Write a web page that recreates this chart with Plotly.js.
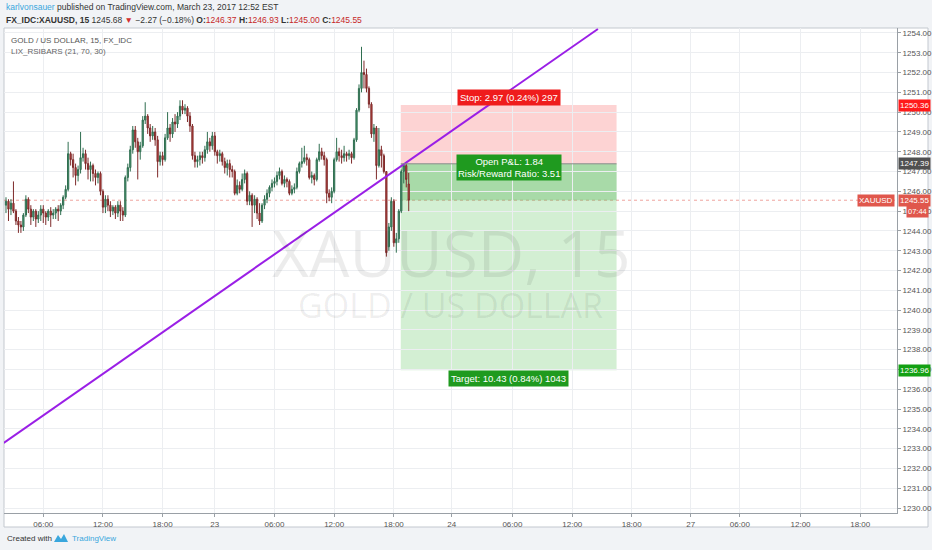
<!DOCTYPE html>
<html><head><meta charset="utf-8">
<script src="https://cdn.plot.ly/plotly-3.0.1.min.js"></script>
<style>html,body{margin:0;padding:0;background:#f1f3f6;}#chart{width:932px;height:550px;}</style>
</head><body><div id="chart"></div>
<script>
// 15-minute bars, index 0 = Mar 22 06:00
const firstBar = -15;
const opens = [1245.3,1245.5,1245.1,1245.4,1245.0,1244.5,1244.3,1244.2,1244.8,1245.6,1245.1,1244.7,1245.0,1244.6,1244.8,
1245.1,1244.9,1244.7,1245.0,1244.8,1244.9,1245.1,1245.0,1245.3,1245.7,
1246.1,1247.9,1247.6,1247.2,1246.8,1247.1,1247.7,1247.9,1247.4,1247.1,
1247.3,1246.9,1246.7,1246.9,1246.0,1245.2,1245.6,1245.3,1245.0,1245.2,
1244.9,1245.3,1245.0,1244.8,1246.7,1247.2,1248.1,1249.1,1248.5,1248.0,
1248.3,1249.6,1249.8,1249.2,1248.8,1249.0,1248.6,1247.5,1247.8,1247.6,
1248.7,1249.2,1248.9,1249.5,1249.4,1249.8,1250.3,1250.1,1250.2,1249.8,
1249.3,1247.8,1247.5,1247.6,1247.8,1247.7,1248.1,1248.5,1248.3,1248.8,
1248.0,1247.8,1247.9,1247.5,1247.2,1247.4,1247.1,1247.0,1245.9,1246.3,
1246.1,1246.6,1246.9,1245.5,1245.8,1245.3,1245.6,1244.9,1244.5,1245.3,
1245.6,1245.9,1246.2,1246.4,1246.5,1246.8,1247.0,1246.4,1246.6,1246.5,
1245.9,1246.1,1246.2,1247.0,1247.4,1247.5,1247.7,1247.6,1246.7,1246.8,
1246.6,1247.6,1248.0,1247.8,1247.6,1245.9,1245.7,1246.0,1247.6,1248.0,
1247.8,1247.7,1247.9,1247.8,1247.9,1247.7,1248.6,1250.1,1251.2,1252.0,
1251.9,1251.2,1250.4,1248.9,1249.2,1247.3,1248.1,1247.8,1247.0,1243.2,
1244.2,1245.5,1243.4,1243.6,1245.0,1247.0,1247.3,1246.37];
const highs = [1245.7,1245.6,1245.6,1246.5,1245.1,1244.7,1244.5,1244.9,1245.8,1245.7,1245.3,1245.1,1245.1,1245.0,1245.3,
1245.3,1245.0,1245.1,1245.2,1245.1,1245.2,1245.3,1245.4,1245.8,1246.3,
1248.5,1248.0,1247.9,1247.4,1247.3,1249.0,1248.2,1248.1,1247.7,1247.5,
1247.4,1247.1,1247.0,1247.0,1246.1,1245.8,1245.8,1245.5,1245.3,1245.3,
1245.5,1245.5,1245.2,1246.8,1247.4,1248.3,1249.3,1249.3,1248.7,1248.5,
1249.8,1250.5,1249.9,1249.4,1249.3,1249.2,1248.8,1248.0,1248.0,1248.9,
1250.0,1249.4,1249.7,1249.9,1250.0,1250.6,1250.6,1250.4,1250.3,1250.0,
1249.4,1248.0,1247.8,1248.0,1248.0,1248.3,1249.0,1248.7,1249.0,1249.0,
1248.1,1248.1,1248.0,1247.7,1247.6,1247.6,1247.3,1247.1,1246.6,1246.5,
1246.9,1247.1,1247.0,1246.0,1245.9,1245.8,1245.7,1245.4,1245.4,1245.8,
1246.1,1246.3,1246.6,1246.7,1247.0,1247.2,1247.1,1246.8,1246.7,1246.6,
1246.3,1246.4,1247.2,1247.5,1248.2,1248.3,1247.9,1247.7,1247.0,1246.9,
1247.7,1248.4,1248.2,1248.0,1247.7,1246.1,1246.2,1247.7,1248.7,1248.2,
1248.1,1248.3,1248.0,1248.1,1248.0,1248.7,1250.2,1251.4,1253.3,1252.6,
1252.2,1251.3,1250.5,1249.4,1249.3,1249.2,1248.3,1247.9,1247.0,1244.4,
1245.7,1245.6,1243.9,1245.1,1247.1,1247.4,1247.4,1246.93];
const lows = [1244.9,1244.5,1244.8,1244.9,1244.3,1243.9,1243.9,1244.0,1244.7,1244.9,1244.3,1244.5,1244.2,1244.4,1244.5,
1244.4,1244.3,1244.5,1244.2,1244.6,1244.6,1244.5,1244.8,1245.1,1245.6,
1246.0,1247.3,1246.7,1246.3,1246.5,1246.9,1247.5,1247.1,1246.6,1246.5,
1246.5,1246.3,1246.4,1245.8,1244.9,1244.9,1245.0,1244.7,1244.8,1244.6,
1244.7,1244.5,1244.5,1244.7,1246.5,1247.0,1247.9,1248.2,1246.6,1247.6,
1248.2,1249.4,1248.9,1248.5,1248.6,1248.3,1246.7,1247.3,1247.3,1247.5,
1248.6,1248.5,1248.7,1249.0,1249.2,1249.6,1249.9,1249.9,1249.5,1249.0,
1247.6,1247.2,1247.2,1247.3,1247.4,1247.5,1247.9,1248.0,1248.1,1247.8,
1247.4,1247.5,1247.3,1246.9,1246.8,1246.7,1246.7,1245.8,1245.8,1245.9,
1246.0,1246.4,1245.3,1245.3,1244.2,1244.9,1244.6,1244.3,1244.4,1245.1,
1245.4,1245.7,1246.0,1246.2,1246.3,1246.6,1246.3,1246.2,1246.2,1245.8,
1245.8,1245.9,1246.1,1246.9,1247.2,1247.4,1247.3,1246.6,1246.4,1246.3,
1246.5,1247.5,1247.6,1247.3,1245.4,1245.5,1245.4,1245.9,1247.5,1247.5,
1247.4,1247.5,1247.5,1247.6,1247.4,1247.6,1248.5,1250.0,1251.0,1251.2,
1251.0,1250.2,1248.7,1248.5,1246.6,1247.2,1247.2,1246.9,1242.7,1243.0,
1244.0,1243.2,1242.9,1243.4,1244.9,1246.4,1246.2,1245.00];
const closes = [1245.5,1245.1,1245.4,1245.0,1244.5,1244.3,1244.2,1244.8,1245.6,1245.1,1244.7,1245.0,1244.6,1244.8,1245.1,
1244.9,1244.7,1245.0,1244.8,1244.9,1245.1,1245.0,1245.3,1245.7,1246.1,
1247.9,1247.6,1247.2,1246.8,1247.1,1247.7,1247.9,1247.4,1247.1,1247.3,
1246.9,1246.7,1246.9,1246.0,1245.2,1245.6,1245.3,1245.0,1245.2,1244.9,
1245.3,1245.0,1244.8,1246.7,1247.2,1248.1,1249.1,1248.5,1248.0,1248.3,
1249.6,1249.8,1249.2,1248.8,1249.0,1248.6,1247.5,1247.8,1247.6,1248.7,
1249.2,1248.9,1249.5,1249.4,1249.8,1250.3,1250.1,1250.2,1249.8,1249.3,
1247.8,1247.5,1247.6,1247.8,1247.7,1248.1,1248.5,1248.3,1248.8,1248.0,
1247.8,1247.9,1247.5,1247.2,1247.4,1247.1,1247.0,1245.9,1246.3,1246.1,
1246.6,1246.9,1245.5,1245.8,1245.3,1245.6,1244.9,1244.5,1245.3,1245.6,
1245.9,1246.2,1246.4,1246.5,1246.8,1247.0,1246.4,1246.6,1246.5,1245.9,
1246.1,1246.2,1247.0,1247.4,1247.5,1247.7,1247.6,1246.7,1246.8,1246.6,
1247.6,1248.0,1247.8,1247.6,1245.9,1245.7,1246.0,1247.6,1248.0,1247.8,
1247.7,1247.9,1247.8,1247.9,1247.7,1248.6,1250.1,1251.2,1252.0,1251.9,
1251.2,1250.4,1248.9,1249.2,1247.3,1248.1,1247.8,1247.0,1242.9,1244.2,
1245.5,1243.4,1243.6,1245.0,1247.0,1247.3,1246.6,1245.55];

// time axis ticks (bar-index positions) and labels
const tickPos = [0,24,48,69,93,117,141,164.3,188.7,212.8,236.7,260.4,280.2,304.6,328.6];
const tickLabels = ["06:00","12:00","18:00","23","06:00","12:00","18:00","24","06:00","12:00","18:00","27","06:00","12:00","18:00"];

// short position tool
const posStart = 143.8, posEnd = 230.6;
const entryPrice = 1247.39, stopPrice = 1250.36, targetPrice = 1236.96, lastPrice = 1245.55;
// trend line endpoints (bar index, price)
const trendX = [-15.9, 223.1];
const trendY = [1233.29, 1254.2];

const xs = opens.map((_, k) => firstBar + k);

// pixel helpers for page-level text (plot area: x 4..897, y 28..513)
const PL = 4, PR = 897, PT = 28, PB = 513;
const px = v => (v - PL) / (PR - PL);
const py = v => (PB - v) / (PB - PT);

const traces = [
  {type:'candlestick', x: xs, open: opens, high: highs, low: lows, close: closes,
   increasing:{line:{color:'#2f6e50', width:1}, fillcolor:'#4f9d76'},
   decreasing:{line:{color:'#7e2a2a', width:1}, fillcolor:'#c4453f'},
   whiskerwidth:0, hoverinfo:'skip', showlegend:false},
  {type:'scatter', mode:'lines', x: trendX, y: trendY,
   line:{color:'#9a1fe6', width:2}, hoverinfo:'skip', showlegend:false}
];

const FONT = 'Liberation Sans, Arial, sans-serif';
const axisLabel = (txt, price, bg, col, extra) => Object.assign({
  xref:'paper', yref:'y', x:1, y:price, xanchor:'left', yanchor:'middle', xshift:1,
  text:txt, showarrow:false, bgcolor:bg, borderpad:1,
  font:{family:FONT, size:8, color:col}
}, extra||{});

const layout = {
  width:932, height:550,
  margin:{l:PL, r:932-PR, t:PT, b:550-PB, pad:0},
  paper_bgcolor:'#f1f3f6', plot_bgcolor:'#ffffff',
  showlegend:false,
  xaxis:{range:[-15.8, 343.4], tickmode:'array', tickvals:tickPos, ticktext:tickLabels,
    showgrid:true, gridcolor:'#eceef1', gridwidth:1, zeroline:false,
    showline:true, linecolor:'#9aa0a6', linewidth:1, ticks:'outside', ticklen:3, tickcolor:'#9aa0a6',
    tickfont:{family:FONT, size:8, color:'#555'}, rangeslider:{visible:false}, fixedrange:true},
  yaxis:{side:'right', range:[1229.75, 1254.25], tick0:1230, dtick:1, tickformat:'.2f',
    showgrid:true, gridcolor:'#eceef1', gridwidth:1, zeroline:false,
    showline:true, linecolor:'#9aa0a6', linewidth:1, ticks:'outside', ticklen:3, tickcolor:'#9aa0a6',
    tickfont:{family:FONT, size:8, color:'#555'}, fixedrange:true},
  shapes:[
    // chart frame
    {type:'rect', xref:'paper', yref:'paper', x0:0, x1:px(928), y0:py(527), y1:1, layer:'below',
     fillcolor:'#ffffff', line:{color:'#c3c8cf', width:1}},
    // stop zone
    {type:'rect', xref:'x', yref:'y', x0:posStart, x1:posEnd, y0:entryPrice, y1:stopPrice, layer:'below',
     fillcolor:'rgba(250,120,120,0.33)', line:{width:0}},
    // target zone
    {type:'rect', xref:'x', yref:'y', x0:posStart, x1:posEnd, y0:targetPrice, y1:entryPrice, layer:'below',
     fillcolor:'rgba(120,205,120,0.33)', line:{width:0}},
    // open P&L zone
    {type:'rect', xref:'x', yref:'y', x0:posStart, x1:posEnd, y0:lastPrice, y1:entryPrice, layer:'below',
     fillcolor:'rgba(90,180,90,0.35)', line:{width:0}},
    // entry line
    {type:'line', xref:'x', yref:'y', x0:posStart, x1:posEnd, y0:entryPrice, y1:entryPrice,
     line:{color:'#8a8a8a', width:1}},
    // last price line
    {type:'line', xref:'paper', yref:'y', x0:0, x1:1, y0:lastPrice, y1:lastPrice, layer:'below',
     line:{color:'rgba(225,90,80,0.55)', width:1, dash:'dot'}}
  ],
  annotations:[
    // watermark
    {xref:'paper', yref:'paper', x:px(451), y:py(252), text:'XAUUSD, 15', showarrow:false,
     font:{family:'Open Sans, Liberation Sans, sans-serif', size:64, color:'rgba(0,0,0,0.075)'}},
    {xref:'paper', yref:'paper', x:px(450), y:py(305), text:'GOLD / US DOLLAR', showarrow:false,
     font:{family:'Open Sans, Liberation Sans, sans-serif', size:34, color:'rgba(0,0,0,0.075)'}},
    // header
    {xref:'paper', yref:'paper', x:px(4), y:py(7), xanchor:'left', yanchor:'middle', showarrow:false,
     text:'<span style="color:#3aa7dd">karlvonsauer</span> published on TradingView.com, March 23, 2017 12:52 EST',
     font:{family:FONT, size:8.5, color:'#333'}},
    {xref:'paper', yref:'paper', x:px(4), y:py(20), xanchor:'left', yanchor:'middle', showarrow:false,
     text:'<b>FX_IDC:XAUUSD, 15</b> 1245.68 <span style="color:#d32f2f">▼</span> −2.27 (−0.18%) <b>O:</b><span style="color:#c62828">1246.37</span> <b>H:</b><span style="color:#c62828">1246.93</span> <b>L:</b><span style="color:#c62828">1245.00</span> <b>C:</b><span style="color:#c62828">1245.55</span>',
     font:{family:FONT, size:8.5, color:'#333'}},
    // legend text in pane
    {xref:'paper', yref:'paper', x:px(9), y:py(40), xanchor:'left', yanchor:'middle', showarrow:false,
     text:'GOLD / US DOLLAR, 15, FX_IDC', font:{family:FONT, size:8, color:'#555'}},
    {xref:'paper', yref:'paper', x:px(9), y:py(51), xanchor:'left', yanchor:'middle', showarrow:false,
     text:'LIX_RSIBARS (21, 70, 30)', font:{family:FONT, size:8, color:'#666'}},
    // position labels
    {xref:'x', yref:'y', x:(posStart+posEnd)/2, y:stopPrice, yshift:8, showarrow:false,
     text:'Stop: 2.97 (0.24%) 297', bgcolor:'#ef1c1c', borderpad:2,
     font:{family:FONT, size:9.5, color:'#fff'}},
    {xref:'x', yref:'y', x:(posStart+posEnd)/2, y:entryPrice, yshift:-4, showarrow:false,
     text:'Open P&L: 1.84<br>Risk/Reward Ratio: 3.51', bgcolor:'#1f9a1f', borderpad:1,
     font:{family:FONT, size:9.5, color:'#fff'}},
    {xref:'x', yref:'y', x:(posStart+posEnd)/2, y:targetPrice, yshift:-8, showarrow:false,
     text:'Target: 10.43 (0.84%) 1043', bgcolor:'#1f9a1f', borderpad:2,
     font:{family:FONT, size:9.5, color:'#fff'}},
    // price-axis labels
    axisLabel('1250.36', stopPrice, '#ff1a1a', '#fff'),
    axisLabel('1247.39', entryPrice, '#505050', '#fff'),
    axisLabel('1245.55', lastPrice, '#e0574c', '#fff'),
    axisLabel('07:44', lastPrice, '#e0574c', '#fff', {yshift:-11, xshift:9, font:{family:FONT, size:7.5, color:'#fff'}}),
    axisLabel('1236.96', targetPrice, '#13a013', '#fff'),
    {xref:'paper', yref:'y', x:1, y:lastPrice, xanchor:'right', yanchor:'middle', xshift:-2,
     text:'XAUUSD', showarrow:false, bgcolor:'#e0574c', borderpad:1,
     font:{family:FONT, size:8, color:'#fff'}},
    // footer
    {xref:'paper', yref:'paper', x:px(5), y:py(538), xanchor:'left', yanchor:'middle', showarrow:false,
     text:'Created with', font:{family:FONT, size:8, color:'#333'}},
    {xref:'paper', yref:'paper', x:px(70), y:py(538), xanchor:'left', yanchor:'middle', showarrow:false,
     text:'TradingView', font:{family:FONT, size:8, color:'#3aa7dd'}}
  ]
};
// small logo next to footer text
layout.shapes.push({type:'path', xref:'paper', yref:'paper', layer:'above',
  path:`M ${px(54)} ${py(542)} L ${px(58)} ${py(535)} L ${px(61)} ${py(539)} L ${px(64)} ${py(534)} L ${px(68)} ${py(542)} Z`,
  fillcolor:'#3aa7dd', line:{width:0}});

Plotly.newPlot('chart', traces, layout, {staticPlot:true, displayModeBar:false});
</script></body></html>
